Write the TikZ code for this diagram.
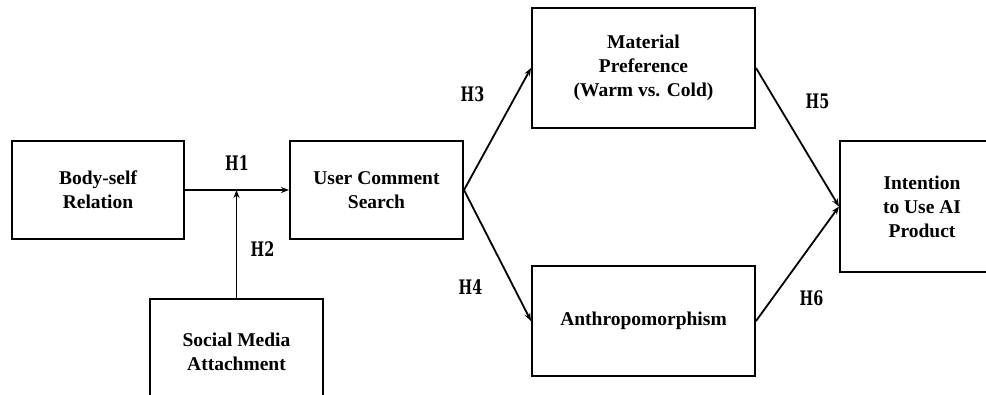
\documentclass[tikz,border=0pt]{standalone}
\usepackage{fontspec}
\setmainfont{Liberation Serif}
\newfontfamily\hypfont[FakeStretch=0.8]{DejaVu Serif Condensed}
\usetikzlibrary{arrows.meta}
\tikzset{
  var/.style={draw, line width=2pt, align=center, inner sep=0pt,
    font=\bfseries\fontsize{19.5}{24}\selectfont},
  hyp/.style={font=\hypfont\bfseries\fontsize{20}{20}\selectfont},
  link/.style={-{Stealth[length=8pt,width=6pt]}, line width=1.8pt}
}
\begin{document}
\begin{tikzpicture}[x=1pt, y=-1pt]
    \path[use as bounding box] (0,0) rectangle (986,394);
    \clip (0,0) rectangle (986,394);
    \node[var, minimum width=172, minimum height=98] (body) at (98, 190) {Body-self\\Relation};
    \node[var, minimum width=173, minimum height=98] (ucs) at (376.5, 190) {User Comment\\Search};
    \node[var, minimum width=173, minimum height=106] (sma) at (236.5, 352) {Social Media\\Attachment};
    \node[var, minimum width=223, minimum height=120] (mat) at (643.5, 68) {Material\\Preference\\(Warm vs. Cold)};
    \node[var, minimum width=223, minimum height=110] (anth) at (643.5, 321) {Anthropomorphism};
    \node[var, minimum width=164, minimum height=131] (int) at (922, 206.5) {Intention\\to Use AI\\Product};
    \coordinate (join) at (sma.north |- ucs.west);
    \draw[link] (body.east) -- (ucs.west) node[midway, hyp, yshift=27] {H1};
    \draw[link] (sma.north) -- (join) node[midway, hyp, xshift=26, yshift=-5] {H2};
    \draw[link] (ucs.east) -- (mat.west) node[midway, hyp, xshift=-25, yshift=35] {H3};
    \draw[link] (ucs.east) -- (anth.west) node[midway, hyp, xshift=-27, yshift=-32] {H4};
    \draw[link] (mat.east) -- (int.west) node[midway, hyp, xshift=20, yshift=36] {H5};
    \draw[link] (anth.east) -- (int.west) node[midway, hyp, xshift=14, yshift=-34] {H6};
\end{tikzpicture}
\end{document}
